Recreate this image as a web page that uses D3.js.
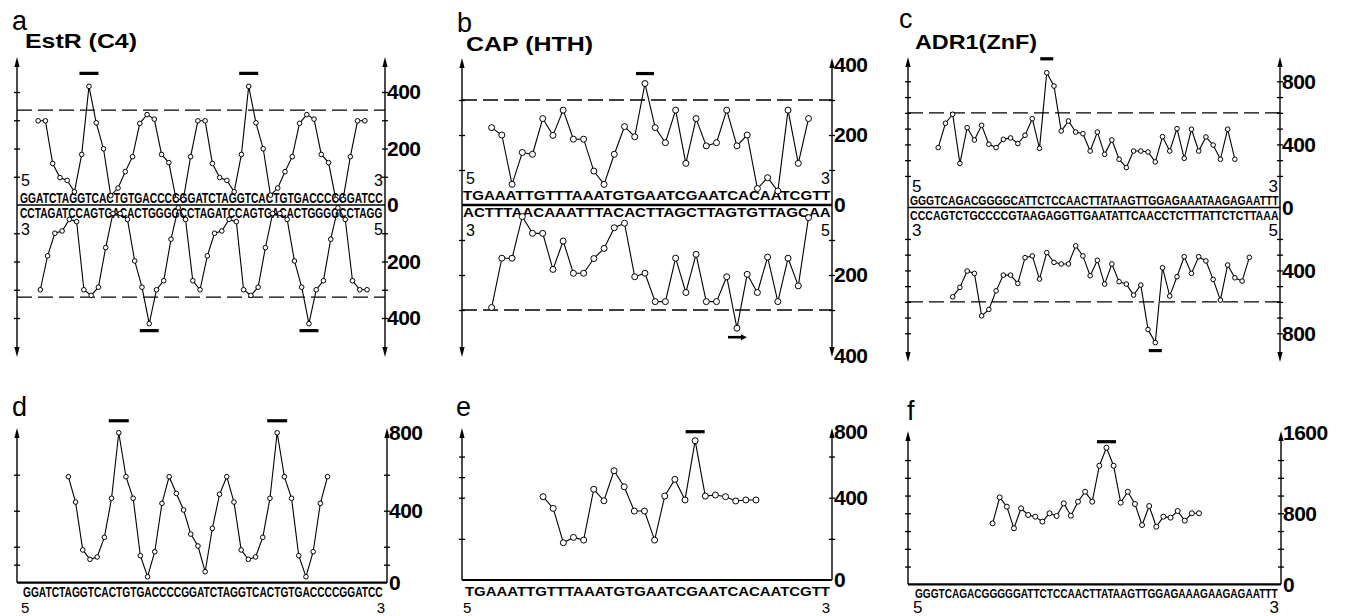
<!DOCTYPE html>
<html>
<head>
<meta charset="utf-8">
<script src="https://cdnjs.cloudflare.com/ajax/libs/d3/7.8.5/d3.min.js"></script>
<style>
  body { margin: 0; background: #fff; }
  text { font-family: "Liberation Sans", Arial, sans-serif; fill: #000; }
</style>
</head>
<body>
<script>
// ---- sequences (top strand / complementary strand) ----
const seqEstR  = "GGATCTAGGTCACTGTGACCCCGGATCTAGGTCACTGTGACCCCGGATCC";
const seqEstRc = "CCTAGATCCAGTGACACTGGGGCCTAGATCCAGTGACACTGGGGCCTAGG";
const seqCap   = "TGAAATTGTTTAAATGTGAATCGAATCACAATCGTT";
const seqCapc  = "ACTTTAACAAATTTACACTTAGCTTAGTGTTAGCAA";
const seqAdr   = "GGGTCAGACGGGGCATTCTCCAACTTATAAGTTGGAGAAATAAGAGAATTT";
const seqAdrc  = "CCCAGTCTGCCCCGTAAGAGGTTGAATATTCAACCTCTTTATTCTCTTAAA";
const seqAdrF  = "GGGTCAGACGGGGGATTCTCCAACTTATAAGTTGGAGAAAGAAGAGAATTT";

// ---- series values ----
const estrUp = [298,298,147,97,87,47,179,420,291,199,33,60,118,171,289,320,304,179,150,20,20,171,
                298,298,147,97,87,47,179,420,291,199,35,60,118,171,289,320,304,179,150,20,20,171,298,298];
const estrDn = [300,180,100,92,51,59,300,320,291,151,30,30,51,198,291,420,300,268,121,10,51,268,
                300,180,100,92,51,59,300,320,291,151,30,30,51,198,291,420,300,268,121,10,51,268,300,300];
const capUp = [221,200,59,150,145,247,199,271,188,188,97,59,145,224,195,347,221,178,271,119,247,169,
               178,271,169,200,47,78,40,271,119,247];
const capDn = [293,152,152,33,81,81,184,103,195,195,153,124,65,52,205,195,276,276,152,250,141,276,
               276,205,352,198,250,149,276,152,231,36];
const adrUp = [380,534,591,280,506,428,521,401,380,432,441,405,458,563,375,854,770,485,548,478,468,
               358,478,337,428,306,253,358,358,352,289,449,358,500,312,496,358,447,396,306,496,306];
const adrDn = [568,508,404,419,689,648,530,430,430,483,319,308,455,287,349,359,359,244,308,434,336,
               487,359,472,487,557,493,776,859,383,563,440,313,419,313,340,457,589,366,447,468,317];
const estrD = [589,448,182,130,143,252,469,833,589,469,150,33,172,441,589,496,404,270,204,61,302,491,
               589,448,182,130,143,252,469,833,589,469,150,33,172,441,589];
const capE  = [405,348,181,207,194,441,385,531,453,335,335,194,408,489,389,677,408,413,405,384,389,389];
const adrF  = [687,980,875,631,856,781,762,706,800,770,912,773,931,1043,931,1336,1539,1336,920,1043,
               905,668,882,649,762,751,826,717,800,800];

// thresholds (dashed lines) and marked peaks
const dashEstR = [336, 326];
const dashCap  = [300, 300];
const dashAdr  = [600, 600];
const peaksEstRUp = [7, 29], peaksEstRDn = [15, 37];
const peaksCapUp = [15], peaksCapDn = [24];
const peaksAdrUp = [15], peaksAdrDn = [28];
const peaksEstRD = [7, 29], peaksCapE = [15], peaksAdrF = [16];

// ---- drawing ----
const svg = d3.select("body").append("svg").attr("width", 1349).attr("height", 616);

function arrow(g, x, y, dir) {
  g.append("path")
    .attr("d", `M${x},${y} L${x - 2.6},${y + dir * 10} L${x + 2.6},${y + dir * 10} Z`)
    .attr("fill", "#000");
}

function vline(g, x, y1, y2, w) {
  g.append("line").attr("x1", x).attr("x2", x).attr("y1", y1).attr("y2", y2)
    .attr("stroke", "#000").attr("stroke-width", w || 1.4);
}

function hline(g, x1, x2, y, w, dash) {
  const l = g.append("line").attr("x1", x1).attr("x2", x2).attr("y1", y).attr("y2", y)
    .attr("stroke", "#000").attr("stroke-width", w || 1.3);
  if (dash) l.attr("stroke-dasharray", dash);
}

function tickAxis(g, x, scale, vals) {
  const ax = g.append("g").attr("transform", `translate(${x},0)`)
    .call(d3.axisLeft(scale).tickValues(vals).tickSize(3).tickFormat(""));
  ax.select(".domain").remove();
  ax.selectAll(".tick text").remove();
  ax.selectAll(".tick line").attr("x1", 3).attr("stroke-width", 1.3);
}

function labelAxis(g, x, scale, vals, tip) {
  const ax = g.append("g").attr("transform", `translate(${x},0)`)
    .call(d3.axisRight(scale).tickValues(vals).tickSize(0).tickPadding(2).tickFormat(d3.format("d")));
  ax.select(".domain").remove();
  ax.selectAll(".tick line").remove();
  ax.selectAll("text")
    .style("font-family", '"Liberation Sans", Arial, sans-serif')
    .style("font-size", "21px").style("font-weight", "bold")
    .style("letter-spacing", "-0.5px");
  if (tip) ax.selectAll(".tick").filter(d => d === tip.v).attr("transform", `translate(0,${tip.y})`);
}

function series(g, xs, ys, start, vals, r) {
  const line = d3.line().x((d, i) => xs(start + i)).y(d => ys(d));
  g.append("path").datum(vals).attr("d", line)
    .attr("fill", "none").attr("stroke", "#000").attr("stroke-width", 1.1);
  g.selectAll(null).data(vals).join("circle")
    .attr("cx", (d, i) => xs(start + i)).attr("cy", d => ys(d)).attr("r", r)
    .attr("fill", "#fff").attr("stroke", "#000").attr("stroke-width", 1);
}

function peakBars(g, xs, ys, start, vals, idx, off, w) {
  idx.forEach(k => {
    const x = xs(start + k), y = ys(vals[k]) + off;
    hline(g, x - w / 2, x + w / 2, y, 3.2);
  });
}

// sequence squeezed to the nucleotide scale with a transform (keeps its real box)
function seqText(g, xs, seq, y, size, sy) {
  const t = g.append("text").attr("x", 0).attr("y", 0)
    .style("font-size", size + "px").style("font-weight", "bold").text(seq);
  const w = t.node().getComputedTextLength();
  const k = (xs(seq.length) - xs(0)) / w;
  t.attr("transform", `translate(${xs(0)},${y}) scale(${k},${sy || 1})`);
}

function txt(g, x, y, s, size, opts) {
  opts = opts || {};
  const t = g.append("text").attr("x", x).attr("y", y).text(s)
    .style("font-size", size + "px").style("font-weight", opts.bold ? "bold" : "normal");
  if (opts.anchor) t.attr("text-anchor", opts.anchor);
  if (opts.len) t.attr("textLength", opts.len).attr("lengthAdjust", "spacingAndGlyphs");
  return t;
}

// panel with both strands (a, b, c)
function strandPanel(o) {
  const g = svg.append("g");
  const xs = d3.scaleLinear().domain([0, o.seqTop.length]).range(o.seqRange);
  const yU = d3.scaleLinear().domain([0, o.max]).range(o.upRange);
  const yD = d3.scaleLinear().domain([0, o.max]).range(o.dnRange);
  const ps = o.primeSize || 17;

  txt(g, o.letter[0], o.letter[1], o.letter[2], 27);
  txt(g, o.title[0], o.title[1], o.title[2], 20, { bold: true, len: o.title[3] });

  [o.L, o.R].forEach(x => {
    vline(g, x, o.top + 6, o.bot - 6);
    arrow(g, x, o.top, 1);
    arrow(g, x, o.bot, -1);
  });
  tickAxis(g, o.L, yU, o.ticksU); tickAxis(g, o.L, yD, o.ticksD);
  tickAxis(g, o.R, yU, o.ticksU); tickAxis(g, o.R, yD, o.ticksD);
  labelAxis(g, o.R, yU, [0].concat(o.labels), o.tipU);
  labelAxis(g, o.R, yD, o.labels, o.tipD);

  hline(g, o.L, o.R, yU(0), o.baseW);
  seqText(g, xs, o.seqTop, o.seqY[0], o.seqSize[0], o.seqSY);
  seqText(g, xs, o.seqBot, o.seqY[1], o.seqSize[1], o.seqSY);

  txt(g, o.L + 4, o.primeY[0], "5", ps);
  txt(g, o.R - 2, o.primeY[0], "3", ps, { anchor: "end" });
  txt(g, o.L + 4, o.primeY[1], "3", ps);
  txt(g, o.R - 2, o.primeY[1], "5", ps, { anchor: "end" });

  hline(g, o.L, o.R, yU(o.dash[0]), 1.3, "15,6");
  hline(g, o.L, o.R, yD(o.dash[1]), 1.3, "15,6");

  series(g, xs, yU, o.startU, o.up, o.r);
  series(g, xs, yD, o.startD, o.dn, o.r);
  peakBars(g, xs, yU, o.startU, o.up, o.peaksU, -o.barOff[0], o.barW);
  if (o.arrowDn) {
    o.peaksD.forEach(k => {
      const x = xs(o.startD + k), y = yD(o.dn[k]) + o.barOff[1];
      hline(g, x - o.barW / 2, x + o.barW / 2 - 3, y, 2.6);
      g.append("path").attr("d", `M${x + o.barW / 2 + 1},${y} l-6,-3 l0,6 Z`).attr("fill", "#000");
    });
  } else {
    peakBars(g, xs, yD, o.startD, o.dn, o.peaksD, o.barOff[1], o.barW);
  }
}

// panel with a single profile (d, e, f)
function singlePanel(o) {
  const g = svg.append("g");
  const xs = d3.scaleLinear().domain([0, o.seq.length]).range(o.seqRange);
  const y = d3.scaleLinear().domain([0, o.max]).range(o.yRange);
  const ps = o.primeSize || 17;

  txt(g, o.letter[0], o.letter[1], o.letter[2], 27);
  [o.L, o.R].forEach(x => {
    vline(g, x, o.top + 6, y(0));
    arrow(g, x, o.top, 1);
  });
  tickAxis(g, o.L, y, o.ticksL);
  tickAxis(g, o.R, y, o.ticksR);
  labelAxis(g, o.R, y, [0].concat(o.labels), o.tip);
  hline(g, o.L, o.R, y(0), 2.2);
  seqText(g, xs, o.seq, o.seqY, o.seqSize, o.seqSY);
  txt(g, o.seqRange[0] - 2, o.primeY, "5", ps);
  txt(g, o.R - 2, o.primeY, "3", ps, { anchor: "end" });

  series(g, xs, y, o.start, o.vals, o.r);
  peakBars(g, xs, y, o.start, o.vals, o.peaks, -o.barOff, o.barW);
}

strandPanel({
  letter: [12, 30, "a"], title: [25, 48, "EstR (C4)", 112],
  L: 17, R: 385, top: 57, bot: 357, max: 400,
  upRange: [205, 92], dnRange: [205, 318],
  ticksU: [100, 200, 300, 400], ticksD: [100, 200, 300, 400], labels: [200, 400],
  seqTop: seqEstR, seqBot: seqEstRc, seqRange: [20, 383], seqY: [202.5, 218], seqSize: [12, 12], seqSY: 1.15,
  primeY: [186, 235], primeSize: 16, baseW: 1.5,
  dash: dashEstR, up: estrUp, dn: estrDn, startU: 2.5, startD: 2.8, r: 2.3,
  peaksU: peaksEstRUp, peaksD: peaksEstRDn, barOff: [13, 7], barW: 19
});

strandPanel({
  letter: [457, 32, "b"], title: [466, 51, "CAP (HTH)", 127],
  L: 462, R: 832, top: 58, bot: 357, max: 400,
  upRange: [205, 65], dnRange: [205, 345],
  ticksU: [100, 200, 300], ticksD: [100, 200, 300], labels: [200, 400],
  tipD: { v: 400, y: 356 },
  seqTop: seqCap, seqBot: seqCapc, seqRange: [463, 831], seqY: [200, 217], seqSize: [13.5, 13],
  primeY: [184, 236], primeSize: 16, baseW: 2.6,
  dash: dashCap, up: capUp, dn: capDn, startU: 2.8, startD: 2.8, r: 3,
  peaksU: peaksCapUp, peaksD: peaksCapDn, barOff: [10, 9], barW: 18, arrowDn: true
});

strandPanel({
  letter: [899, 28, "c"], title: [915, 49, "ADR1(ZnF)", 122],
  L: 908, R: 1280, top: 57, bot: 362, max: 800,
  upRange: [207.5, 81.3], dnRange: [207.5, 333.3],
  ticksU: [200, 300, 400, 500, 600, 700, 800], ticksD: [200, 300, 400, 500, 600, 700, 800],
  labels: [400, 800],
  seqTop: seqAdr, seqBot: seqAdrc, seqRange: [910, 1279], seqY: [205, 220], seqSize: [11, 11], seqSY: 1.15,
  primeY: [192, 236], baseW: 1.5,
  dash: dashAdr, up: adrUp, dn: adrDn, startU: 3.9, startD: 5.9, r: 2.3,
  peaksU: peaksAdrUp, peaksD: peaksAdrDn, barOff: [14, 8], barW: 13
});

singlePanel({
  letter: [12, 416, "d"], L: 17, R: 387, top: 428, max: 800, yRange: [582.7, 438.7],
  ticksL: [100, 200, 400, 600], ticksR: [100, 200, 400, 600], labels: [400, 800],
  tip: { v: 800, y: 433 },
  seq: seqEstR, seqRange: [23, 383], seqY: 596.5, seqSize: 12, seqSY: 1.15, primeY: 613, primeSize: 15,
  vals: estrD, start: 6.3, r: 2.3, peaks: peaksEstRD, barOff: 12, barW: 20
});

singlePanel({
  letter: [456, 416, "e"], L: 462, R: 832, top: 428, max: 800, yRange: [580, 415.4],
  ticksL: [200, 400, 500, 600], ticksR: [200, 400, 600], labels: [400, 800],
  tip: { v: 800, y: 432 },
  seq: seqCap, seqRange: [465, 830], seqY: 596, seqSize: 13, primeY: 612.5, primeSize: 15,
  vals: capE, start: 7.7, r: 3, peaks: peaksCapE, barOff: 9, barW: 19
});

singlePanel({
  letter: [907, 420, "f"], L: 908, R: 1281, top: 431, max: 1600, yRange: [584.3, 442.3],
  ticksL: [200, 400, 600, 800, 1000, 1200, 1400], ticksR: [200, 400, 600, 800, 1000, 1200, 1400],
  labels: [800, 1600], tip: { v: 1600, y: 433 },
  seq: seqAdrF, seqRange: [915, 1278], seqY: 598, seqSize: 11, seqSY: 1.1, primeY: 613,
  vals: adrF, start: 10.9, r: 2.5, peaks: peaksAdrF, barOff: 6, barW: 19
});
</script>
</body>
</html>
